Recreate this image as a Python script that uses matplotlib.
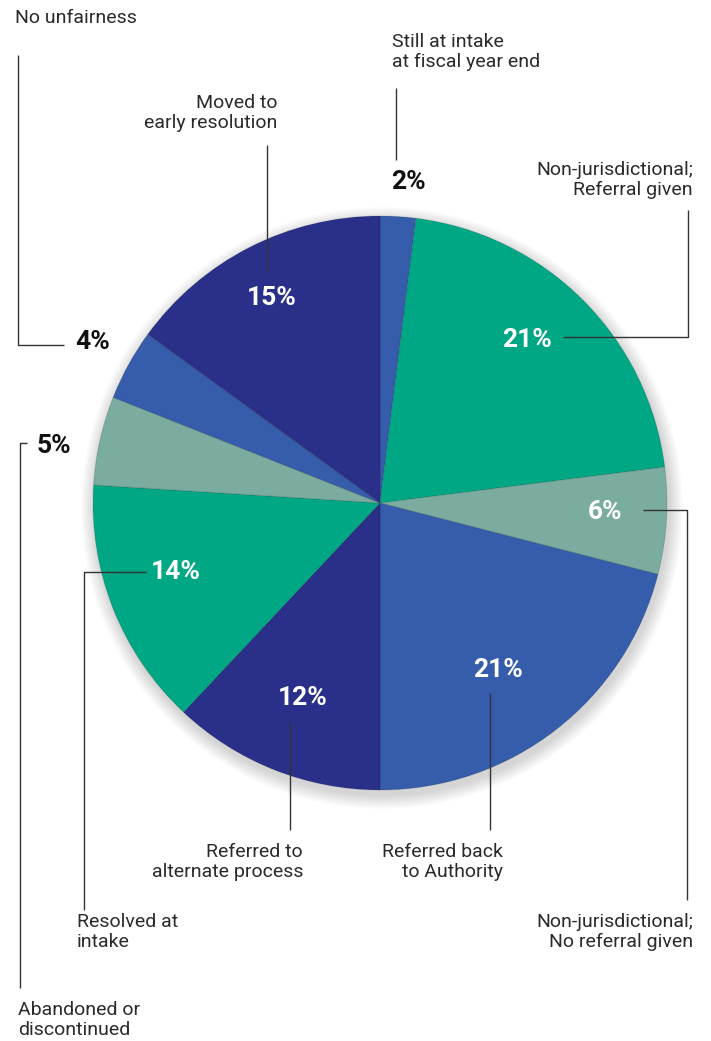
import matplotlib
matplotlib.use("Agg")
import matplotlib.pyplot as plt
from matplotlib.patches import Circle
from matplotlib import font_manager

# ---- data ----
categories = ["Still at intake\nat fiscal year end",
              "Non-jurisdictional;\nReferral given",
              "Non-jurisdictional;\nNo referral given",
              "Referred back\nto Authority",
              "Referred to\nalternate process",
              "Resolved at\nintake",
              "Abandoned or\ndiscontinued",
              "No unfairness",
              "Moved to\nearly resolution"]
values = [2, 21, 6, 21, 12, 14, 5, 4, 15]
pct_labels = ["2%", "21%", "6%", "21%", "12%", "14%", "5%", "4%", "15%"]

NAVY = "#2a3089"
BLUE = "#365dab"
GREEN = "#00a785"
GREY = "#7aac9f"
colors = [BLUE, GREEN, GREY, BLUE, NAVY, GREEN, GREY, BLUE, NAVY]

W, H = 711, 1041
avail = {f.name for f in font_manager.fontManager.ttflist}
narrow = "Liberation Sans Narrow" if "Liberation Sans Narrow" in avail else "Roboto"
label_font = "Roboto" if "Roboto" in avail else "DejaVu Sans"

fig = plt.figure(figsize=(W / 100, H / 100), dpi=100)
ax = fig.add_axes([0, 0, 1, 1])


def Y(y):
    return H - y


cx, cy, r = 380, Y(503), 287

# soft drop shadow
for i in range(14):
    ax.add_patch(Circle((cx + 2, cy - 5), r + 1 + i * 1.0, color="black",
                        alpha=0.010, lw=0, zorder=1))

ax.pie(values, startangle=90, counterclock=False, colors=colors,
       center=(cx, cy), radius=r, frame=True,
       wedgeprops=dict(linewidth=0.8, edgecolor=(0, 0, 0, 0.12), zorder=2))
ax.set_xlim(0, W)
ax.set_ylim(0, H)
ax.set_aspect("equal")
ax.axis("off")

LC = "#333333"
LW = 1.0


def line(xs, ys):
    ax.plot(xs, [Y(v) for v in ys], color=LC, lw=LW, zorder=5,
            solid_capstyle="butt")


def lab(x, y, s, ha):
    ax.text(x, Y(y), s, ha=ha, va="top", fontsize=14, color="#2a2a2a",
            family=label_font, fontweight="normal", linespacing=1.12, zorder=6)


def pct(x, y, s, white=True):
    ax.text(x, Y(y), s, ha="center", va="center", fontsize=19,
            color="white" if white else "#111111", family=narrow,
            fontweight="bold", zorder=6)


# 0: Still at intake (2%)
lab(392, 33, categories[0], "left")
line([396, 396], [88, 160])
pct(408, 182, pct_labels[0], white=False)

# 1: Non-jurisdictional; Referral given (21%)
lab(693, 161, categories[1], "right")
line([688, 688, 563], [210, 337, 337])
pct(527, 340, pct_labels[1])

# 2: Non-jurisdictional; No referral given (6%)
line([643, 687, 687], [510, 510, 900])
pct(605, 512, pct_labels[2])
lab(693, 913, categories[2], "right")

# 3: Referred back to Authority (21%)
pct(498, 670, pct_labels[3])
line([490, 490], [693, 830])
lab(503, 843, categories[3], "right")

# 4: Referred to alternate process (12%)
pct(303, 698, pct_labels[4])
line([290, 290], [722, 830])
lab(303, 843, categories[4], "right")

# 5: Resolved at intake (14%)
pct(176, 572, pct_labels[5])
line([146, 84, 84], [572, 572, 910])
lab(77, 913, categories[5], "left")

# 6: Abandoned or discontinued (5%)
pct(54, 446, pct_labels[6], white=False)
line([27, 20, 20], [443, 443, 988])
lab(18, 1001, categories[6], "left")

# 7: No unfairness (4%)
lab(15, 9, categories[7], "left")
line([18, 18, 64], [55, 345, 345])
pct(93, 342, pct_labels[7], white=False)

# 8: Moved to early resolution (15%)
lab(277, 94, categories[8], "right")
line([267, 267], [145, 272])
pct(272, 298, pct_labels[8])

fig.savefig("out.png", dpi=100)
